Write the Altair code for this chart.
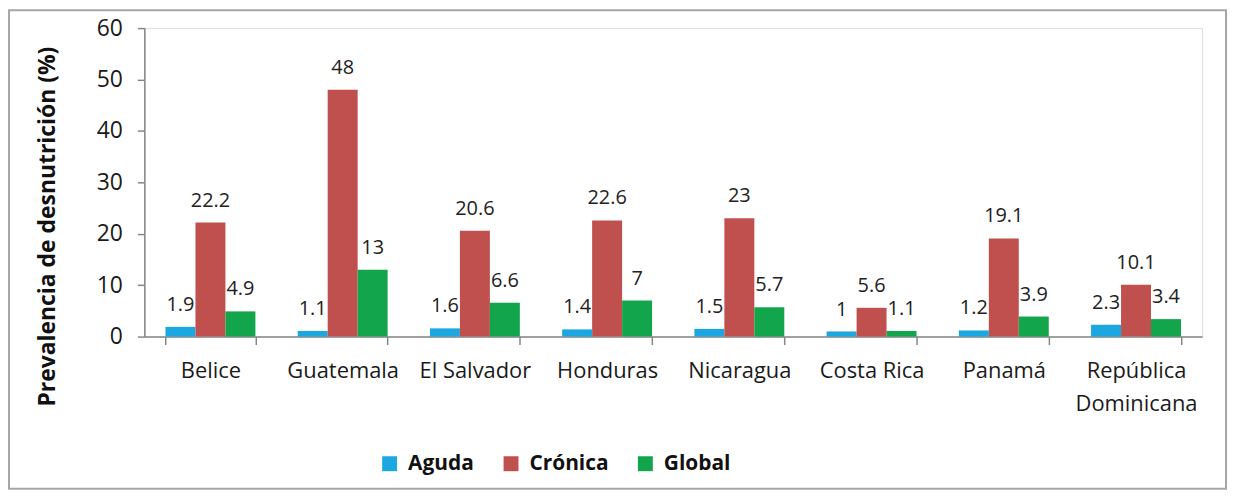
import altair as alt
import pandas as pd

countries = ["Belice", "Guatemala", "El Salvador", "Honduras", "Nicaragua",
             "Costa Rica", "Panamá", "República Dominicana"]
series = ["Aguda", "Crónica", "Global"]
aguda = [1.9, 1.1, 1.6, 1.4, 1.5, 1.0, 1.2, 2.3]
cronica = [22.2, 48, 20.6, 22.6, 23, 5.6, 19.1, 10.1]
global_ = [4.9, 13, 6.6, 7, 5.7, 1.1, 3.9, 3.4]
colors = ["#1CA7E0", "#C0504D", "#12A54C"]
y_ticks = [0, 10, 20, 30, 40, 50, 60]

rows = []
for s, vals in zip(series, [aguda, cronica, global_]):
    for c, v in zip(countries, vals):
        rows.append({"pais": c, "tipo": s, "valor": v, "etiqueta": f"{v:g}"})
df = pd.DataFrame(rows)

FONT = "Open Sans"

x = alt.X("pais:N", sort=countries, title=None,
          scale=alt.Scale(paddingInner=0.32, paddingOuter=0.16),
          axis=alt.Axis(labelAngle=0, labelFont=FONT, labelFontSize=22,
                        labelColor="#1a1a1a", labelPadding=16,
                        labelExpr="datum.label == 'República Dominicana' ? ['República', 'Dominicana'] : datum.label",
                        labelLineHeight=33, labelBaseline="top",
                        tickBand="extent", tickSize=8, tickColor="#868686",
                        domainColor="#868686", domainWidth=1.5, tickWidth=1.5))
xo = alt.XOffset("tipo:N", sort=series)
y = alt.Y("valor:Q", title="Prevalencia de desnutrición (%)",
          scale=alt.Scale(domain=[0, 60], nice=False),
          axis=alt.Axis(values=y_ticks, grid=False, labelFont=FONT, labelFontSize=23,
                        labelColor="#1a1a1a", labelPadding=15, tickSize=7,
                        tickColor="#868686", domainColor="#868686",
                        domainWidth=1.5, tickWidth=1.5,
                        titleFont=FONT, titleFontSize=23, titleFontWeight="bold",
                        titleColor="#111", titleAngle=270, titleX=-97, titleY=199,
                        titleAlign="center", titleBaseline="middle"))
color = alt.Color("tipo:N", sort=series,
                  scale=alt.Scale(domain=series, range=colors),
                  legend=alt.Legend(title=None, orient="none", legendX=236, legendY=427,
                                    direction="horizontal", symbolType="square",
                                    symbolSize=225, symbolStrokeWidth=0,
                                    labelFont=FONT, labelFontSize=21,
                                    labelFontWeight="bold", labelColor="#111",
                                    labelOffset=8, columnPadding=26, padding=0))

bars = alt.Chart(df).mark_bar().encode(x=x, xOffset=xo, y=y, color=color)
labels = alt.Chart(df).mark_text(font=FONT, fontSize=20, color="#222", dy=-16,
                                 baseline="alphabetic").encode(
    x=alt.X("pais:N", sort=countries), xOffset=xo, y="valor:Q", text="etiqueta:N")

frame = alt.Chart(pd.DataFrame({"k": [0]})).mark_rect(
    fill=None, stroke="#A6A6A6", strokeWidth=2).encode(
    x=alt.value(-136), x2=alt.value(1087), y=alt.value(-18), y2=alt.value(463))

chart = alt.layer(frame, bars, labels).properties(
    width=1063, height=310,
    padding={"left": 137, "top": 19, "right": 28, "bottom": 161},
    autosize=alt.AutoSizeParams(type="none"),
).configure_view(stroke=None).configure(background="white")

chart.save("out.html", embed_options={"renderer": "svg", "actions": False})
